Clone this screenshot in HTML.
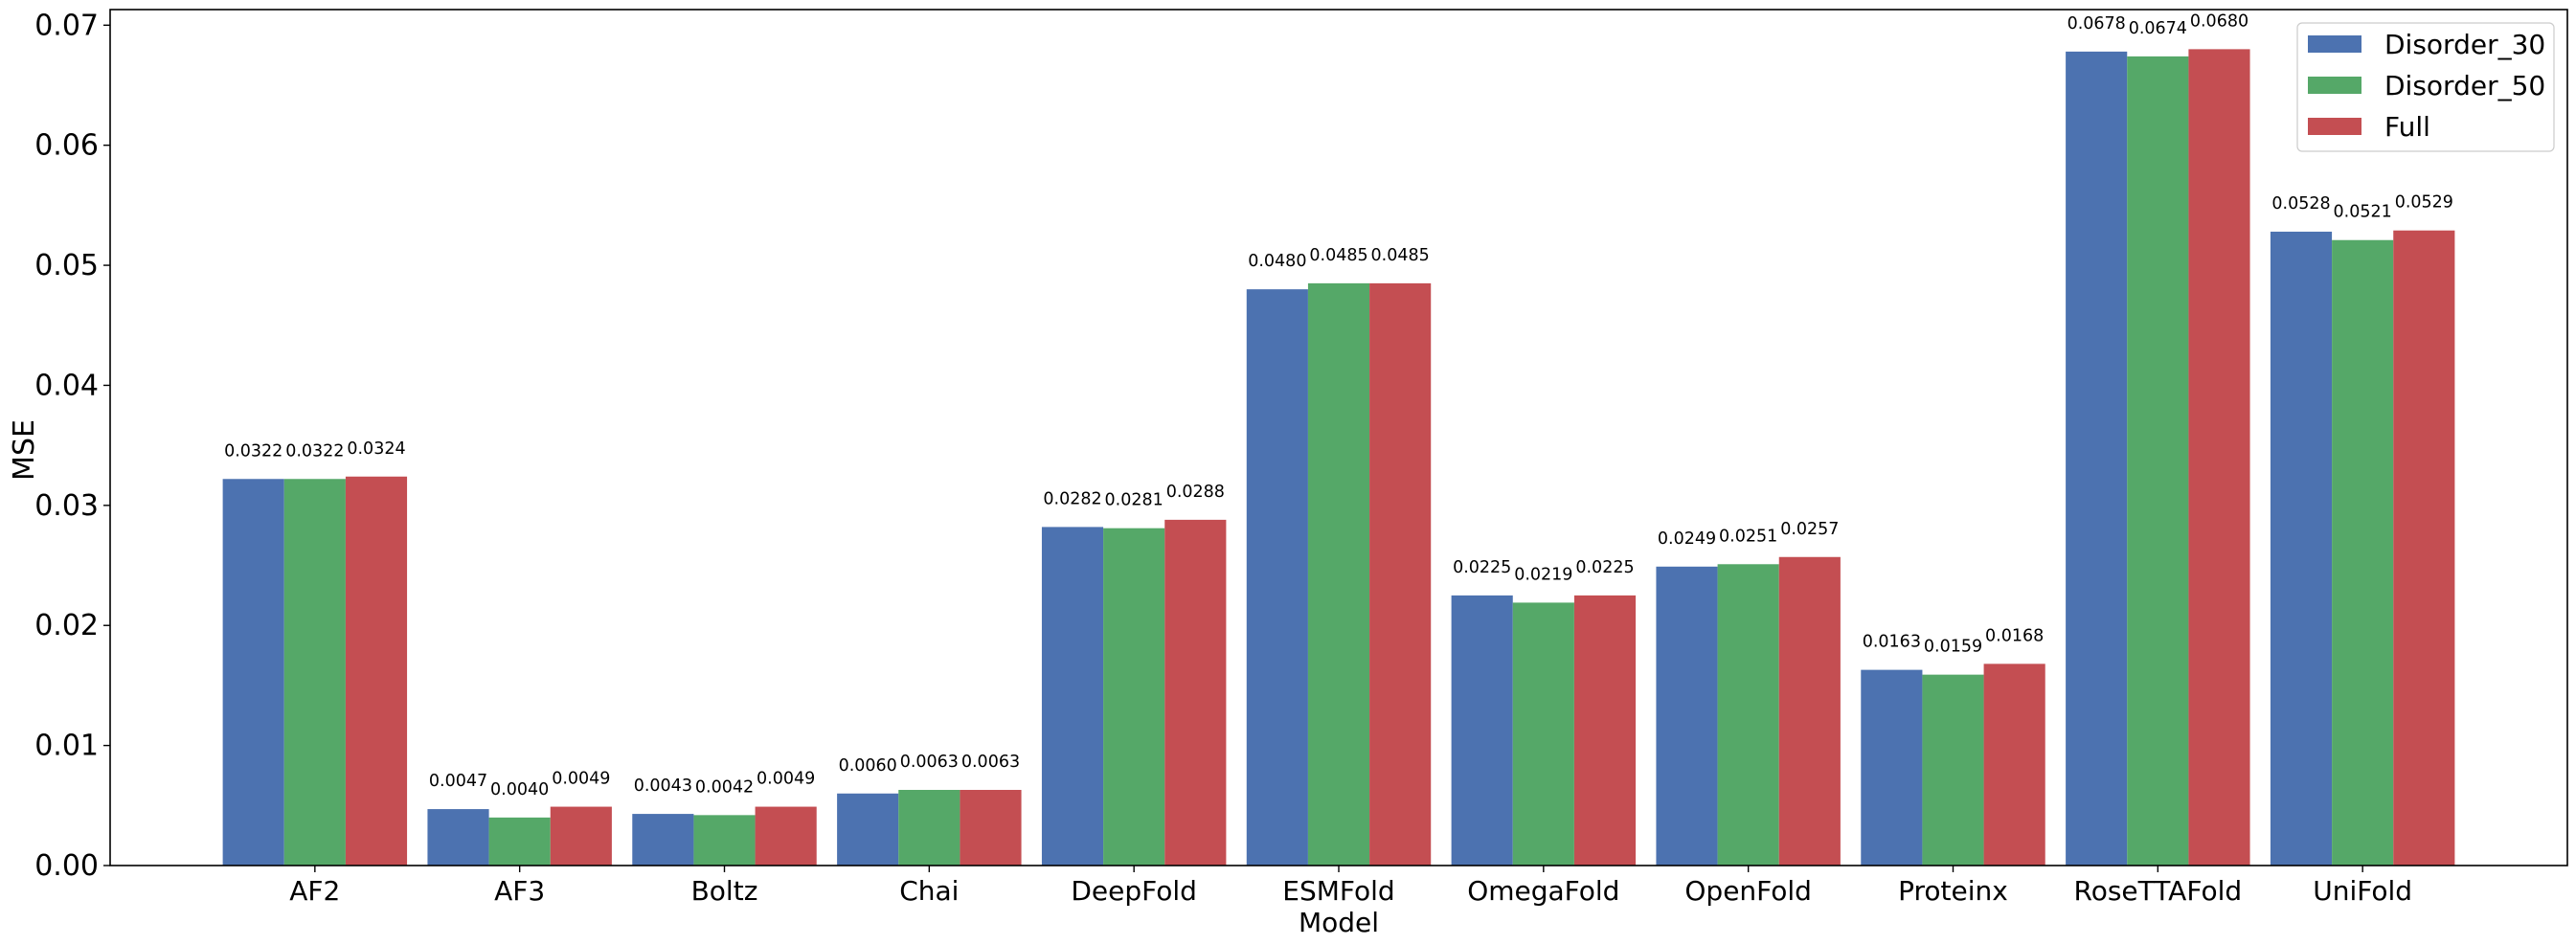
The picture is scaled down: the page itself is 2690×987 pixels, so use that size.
<!DOCTYPE html>
<html><head><meta charset="utf-8"><style>
html,body{margin:0;padding:0;background:#fff;}
svg{display:block;font-family:"DejaVu Sans","Liberation Sans",sans-serif;}
</style></head><body>
<svg id="chart" width="2690" height="987" viewBox="0 0 2690 987" xmlns="http://www.w3.org/2000/svg">
<g id="plot"></g>
</svg>
<script>
const categories = ["AF2","AF3","Boltz","Chai","DeepFold","ESMFold","OmegaFold","OpenFold","Proteinx","RoseTTAFold","UniFold"];
const disorder30 = [0.0322,0.0047,0.0043,0.0060,0.0282,0.0480,0.0225,0.0249,0.0163,0.0678,0.0528];
const disorder50 = [0.0322,0.0040,0.0042,0.0063,0.0281,0.0485,0.0219,0.0251,0.0159,0.0674,0.0521];
const full = [0.0324,0.0049,0.0049,0.0063,0.0288,0.0485,0.0225,0.0257,0.0168,0.0680,0.0529];
const yTicks = [0,0.01,0.02,0.03,0.04,0.05,0.06,0.07];
const seriesNames = ["Disorder_30","Disorder_50","Full"];

const NS="http://www.w3.org/2000/svg";
const L=115,R=2681,T=10,B=904;
const yMax=0.0713, xMin=-1, xMax=11;
const sx=v=>L+(v-xMin)/(xMax-xMin)*(R-L);
const sy=v=>B-v/yMax*(B-T);
const colors=["#4c72b0","#55a868","#c44e52"];
const series=[disorder30,disorder50,full];
const g=document.getElementById('plot');
function mk(tag,attrs,parent){const e=document.createElementNS(NS,tag);for(const k in attrs)e.setAttribute(k,attrs[k]);(parent||g).appendChild(e);return e;}
const bw=0.3;
series.forEach((s,si)=>{
  s.forEach((v,i)=>{
    const x0=sx(i+(si-1)*bw-bw/2), x1=sx(i+(si-1)*bw+bw/2);
    const r=mk('rect',{x:x0,y:sy(v),width:x1-x0,height:B-sy(v),fill:colors[si]});
    
    
    const t=mk('text',{x:(x0+x1)/2,y:sy(v)-24,'text-anchor':'middle','font-size':17.5,fill:'#000'});
    t.textContent=v.toFixed(4);
    
    
  });
});
const fr=mk('rect',{x:L,y:T,width:R-L,height:B-T,fill:'none',stroke:'#000','stroke-width':1.6});


yTicks.forEach(v=>{
  mk('line',{x1:L-7,x2:L,y1:sy(v),y2:sy(v),stroke:'#000','stroke-width':1.4});
  const t=mk('text',{x:L-12,y:sy(v)+10,'text-anchor':'end','font-size':30});
  t.textContent=v.toFixed(2);
  
  
});
categories.forEach((c,i)=>{
  mk('line',{x1:sx(i),x2:sx(i),y1:B,y2:B+7,stroke:'#000','stroke-width':1.4});
  const t=mk('text',{x:sx(i),y:B+36,'text-anchor':'middle','font-size':28});
  t.textContent=c;
  
  
});
const xt=mk('text',{x:(L+R)/2,y:973,'text-anchor':'middle','font-size':28});
xt.textContent='Model';


const yt=mk('text',{x:0,y:0,'text-anchor':'middle','font-size':30,transform:'translate(35,470) rotate(-90)'});
yt.textContent='MSE';


const lg=mk('g',{});


mk('rect',{x:2399,y:24,width:268,height:134,rx:5,fill:'#fff','fill-opacity':0.8,stroke:'#ccc','stroke-width':1.2},lg);
seriesNames.forEach((n,i)=>{
  const cy=46+i*43;
  mk('rect',{x:2410,y:cy-9,width:56,height:18,fill:colors[i]},lg);
  const t=mk('text',{x:2490,y:cy+10,'font-size':28},lg);
  t.textContent=n;
  
  
});
</script>
</body></html>
